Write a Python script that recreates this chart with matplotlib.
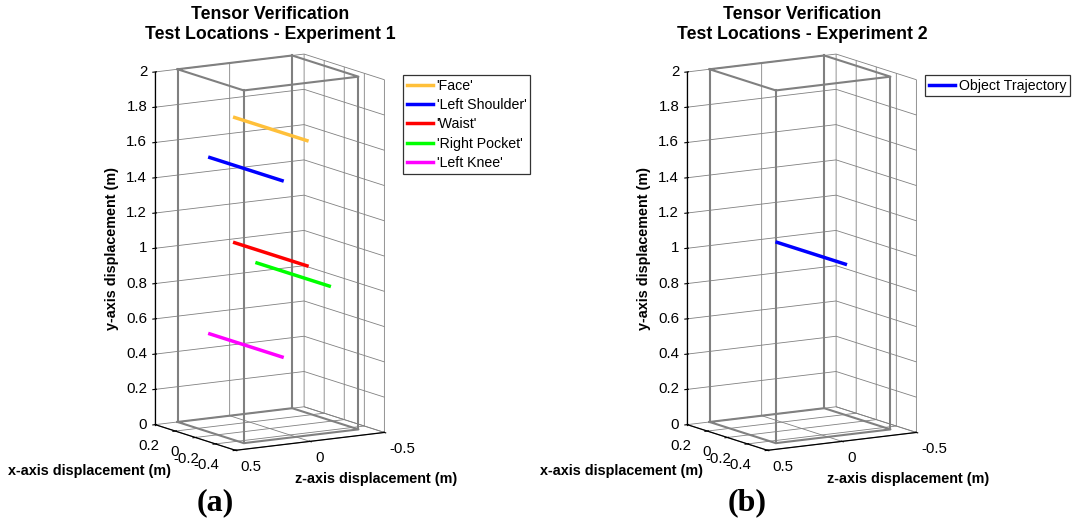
"""
Tensor verification: 3D test locations for two experiments.
"""

import matplotlib
matplotlib.use("Agg")  # headless backend
import matplotlib.pyplot as plt
from matplotlib.transforms import ScaledTranslation
from mpl_toolkits.mplot3d import proj3d

W, H = 1079, 525

# sensor traces, experiment 1 (metres)
sensor_labels = ["'Face'", "'Left Shoulder'", "'Waist'", "'Right Pocket'", "'Left Knee'"]
sensor_colors = ["#ffc03a", "#0000ff", "#ff0000", "#00ff00", "#ff00ff"]
sensor_height = [1.70, 1.49, 0.99, 0.86, 0.49]
sensor_zdisp = [0.00, 0.167, 0.00, -0.15, 0.167]
sensor_xdisp_start = [0.35, 0.35, 0.35, 0.35, 0.35]
sensor_xdisp_end = [-0.37, -0.37, -0.37, -0.37, -0.37]

# object trace, experiment 2
object_labels = ["Object Trajectory"]
object_colors = ["#0000ff"]
object_height = [0.985]
object_zdisp = [-0.07]
object_xdisp_start = [0.35]
object_xdisp_end = [-0.33]

# room outline drawn in both panels
room_xdisp = [0.40, -0.26]
room_zdisp = [0.35, -0.42]
room_height = [0.0, 2.0]

xdisp_ticks = [-0.4, -0.2, 0, 0.2]
xdisp_ticklabels = ["-0.4", "-0.2", "0", "0.2"]
zdisp_ticks = [-0.5, 0, 0.5]
zdisp_ticklabels = ["-0.5", "0", "0.5"]
height_ticks = [0, 0.2, 0.4, 0.6, 0.8, 1, 1.2, 1.4, 1.6, 1.8, 2]
height_ticklabels = ["0", "0.2", "0.4", "0.6", "0.8", "1", "1.2", "1.4", "1.6", "1.8", "2"]

plt.rcParams["font.family"] = ["Liberation Sans", "DejaVu Sans"]
GRID = (0.5, 0.5, 0.5)
ROOM = (0.5, 0.5, 0.5)
TICK_FS = 10.8


def px_rect(cx, cy, size):
    return [(cx - size / 2) / W, 1 - (cy + size / 2) / H, size / W, size / H]


def shifted(ax, dx_px, dy_px):
    # offset in pixels (down positive) on top of the data transform
    return ax.transData + ScaledTranslation(dx_px / 100, -dy_px / 100, fig.dpi_scale_trans)


def label_at(ax, x, y, z, s, ha, dx, dy):
    # project the 3D tick point, then place an ordinary 2D text there
    px, py, _ = proj3d.proj_transform(x, y, z, ax.get_proj())
    ax.text2D(px, py, s, ha=ha, va="center", fontsize=TICK_FS,
              transform=shifted(ax, dx, dy))


def draw_room(ax):
    x0, x1 = room_xdisp
    z0, z1 = room_zdisp
    h0, h1 = room_height
    corners = [(x0, z0), (x0, z1), (x1, z1), (x1, z0), (x0, z0)]
    for h in (h0, h1):
        ax.plot([c[0] for c in corners], [c[1] for c in corners], [h] * 5,
                color=ROOM, lw=1.5)
    for cx, cz in corners[:4]:
        ax.plot([cx, cx], [cz, cz], [h0, h1], color=ROOM, lw=1.5)


def setup_axes(ax):
    ax.set_proj_type("ortho")
    ax.view_init(elev=11.3, azim=148.5)
    ax.set_xlim(-0.4, 0.4)
    ax.set_ylim(-0.5, 0.5)
    ax.set_zlim(0, 2)
    ax.set_box_aspect((0.88, 1.0, 2.06), zoom=0.967)
    ax.set_xticks(xdisp_ticks)
    ax.set_yticks(zdisp_ticks)
    ax.set_zticks(height_ticks)
    for axis in (ax.xaxis, ax.yaxis, ax.zaxis):
        axis.set_pane_color((1, 1, 1, 0))
        axis._axinfo["grid"]["color"] = GRID
        axis._axinfo["grid"]["linewidth"] = 0.6
        axis._axinfo["axisline"]["color"] = "black"
        axis.line.set_color("black")
        axis.line.set_linewidth(0.9)
        axis.set_tick_params(label1On=False, label2On=False)
    ax.zaxis.set_ticks_position("upper")
    ax.set_xlabel("")
    ax.set_ylabel("")
    ax.set_zlabel("")

    # tick labels placed the way MATLAB does it
    xmin, xmax = ax.get_xlim()
    zmax = ax.get_ylim()[1]
    for t, s in zip(xdisp_ticks, xdisp_ticklabels):
        label_at(ax, t, zmax, 0, s, "right", -16, 15)
    for t, s in zip(zdisp_ticks, zdisp_ticklabels):
        label_at(ax, xmin, t, 0, s, "left", 5, 17)
    for t, s in zip(height_ticks, height_ticklabels):
        label_at(ax, xmax, zmax, t, s, "right", -8, 0)


def draw_panel(cx, title, labels, colors, heights, zdisp, xs, xe, legend_xy):
    ax = fig.add_axes(px_rect(cx - 6, 258, 430), projection="3d")
    setup_axes(ax)
    draw_room(ax)
    handles = []
    for lab, col, h, z, a, b in zip(labels, colors, heights, zdisp, xs, xe):
        (ln,) = ax.plot([a, b], [z, z], [h, h], color=col, lw=2.5, label=lab)
        handles.append(ln)
    fig.text(cx / W, 1 - 6 / H, title, ha="center", va="top",
             fontsize=12.7, fontweight="bold", linespacing=1.25)
    leg = fig.legend(handles=handles, loc="upper left",
                     bbox_to_anchor=(legend_xy[0] / W, 1 - legend_xy[1] / H),
                     fontsize=10.2, frameon=True, fancybox=False, borderaxespad=0,
                     borderpad=0.25, handlelength=1.85, handletextpad=0.28,
                     labelspacing=0.38)
    leg.get_frame().set_edgecolor("black")
    leg.get_frame().set_linewidth(0.9)
    return ax


fig = plt.figure(figsize=(W / 100, H / 100), dpi=100)

panels = [
    (270, "Tensor Verification\nTest Locations - Experiment 1", sensor_labels,
     sensor_colors, sensor_height, sensor_zdisp, sensor_xdisp_start,
     sensor_xdisp_end, (403, 75), "(a)"),
    (802, "Tensor Verification\nTest Locations - Experiment 2", object_labels,
     object_colors, object_height, object_zdisp, object_xdisp_start,
     object_xdisp_end, (925, 75), "(b)"),
]

for cx, title, labs, cols, hs, zs, xs, xe, legxy, tag in panels:
    draw_panel(cx, title, labs, cols, hs, zs, xs, xe, legxy)
    off = cx - 270
    fig.text((off + 112) / W, 1 - 248 / H, "y-axis displacement (m)", rotation=90,
             ha="center", va="center", fontsize=10.4, fontweight="bold")
    fig.text((off + 90) / W, 1 - 471 / H, "x-axis displacement (m)",
             ha="center", va="center", fontsize=10.4, fontweight="bold")
    fig.text((off + 376) / W, 1 - 479 / H, "z-axis displacement (m)",
             ha="center", va="center", fontsize=10.4, fontweight="bold")
    fig.text((off + 215) / W, 1 - 503 / H, tag, ha="center", va="center",
             fontsize=23, fontweight="bold", family="Liberation Serif")

fig.savefig("out.png", dpi=100)
